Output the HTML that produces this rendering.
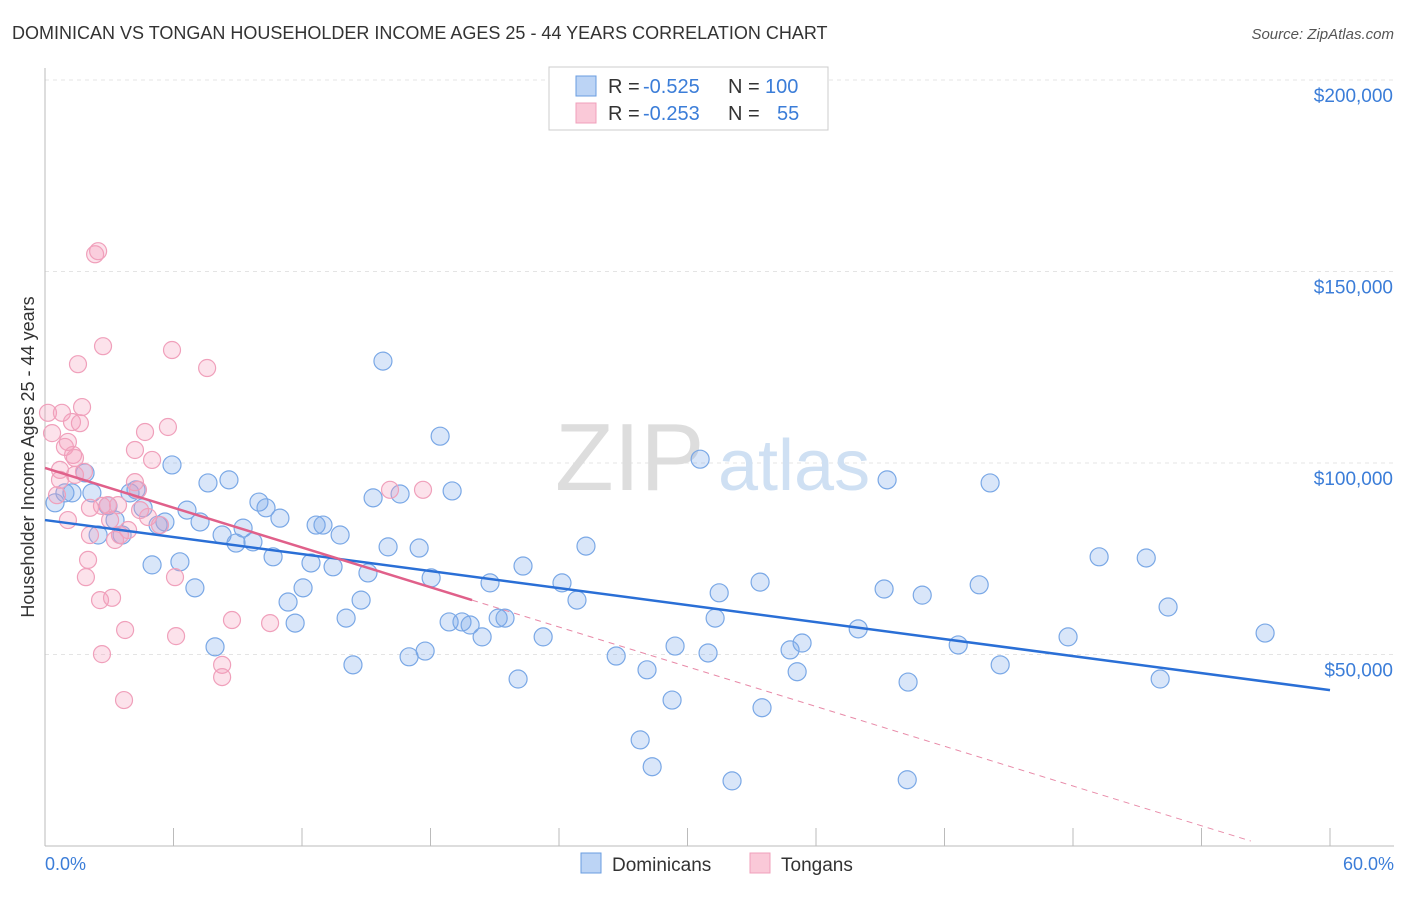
<!DOCTYPE html>
<html><head><meta charset="utf-8"><style>
body{margin:0;background:#fff;font-family:"Liberation Sans",sans-serif}
svg text{font-family:"Liberation Sans",sans-serif}
</style></head><body>
<svg id="chart" width="1406" height="892" xmlns="http://www.w3.org/2000/svg">
<text x="12" y="39" font-size="18" fill="#333">DOMINICAN VS TONGAN HOUSEHOLDER INCOME AGES 25 - 44 YEARS CORRELATION CHART</text>
<text x="1394" y="39" font-size="15" fill="#555" text-anchor="end" font-style="italic">Source: ZipAtlas.com</text>
<g id="grid"></g>
<g><text x="555" y="490" font-size="96" fill="#ddd" font-family="Liberation Serif">ZIP</text><text x="718" y="490" font-size="72" fill="#cfe0f3">atlas</text></g>
<g id="marks"></g>
<text transform="translate(34,457) rotate(-90)" font-size="18" fill="#333" text-anchor="middle">Householder Income Ages 25 - 44 years</text>
<text x="45" y="870" font-size="18" fill="#3b7dd8">0.0%</text>
<text x="1394" y="870" font-size="18" fill="#3b7dd8" text-anchor="end">60.0%</text>
<g>
<rect x="549" y="67" width="279" height="63" fill="#fff" stroke="#ccc"/>
<rect x="576" y="76" width="20" height="20" fill="#bcd4f5" stroke="#6a9de0"/>
<rect x="576" y="103" width="20" height="20" fill="#fac9d8" stroke="#f0a0bb"/>
<text x="608" y="93" font-size="20" fill="#333">R =</text>
<text x="643" y="93" font-size="20" fill="#3b7dd8">-0.525</text>
<text x="728" y="93" font-size="20" fill="#333">N =</text>
<text x="765" y="93" font-size="20" fill="#3b7dd8">100</text>
<text x="608" y="120" font-size="20" fill="#333">R =</text>
<text x="643" y="120" font-size="20" fill="#3b7dd8">-0.253</text>
<text x="728" y="120" font-size="20" fill="#333">N =</text>
<text x="777" y="120" font-size="20" fill="#3b7dd8">55</text>
</g>
<g>
<rect x="581" y="853" width="20" height="20" fill="#bcd4f5" stroke="#6a9de0"/>
<text x="612" y="871" font-size="19" fill="#333">Dominicans</text>
<rect x="750" y="853" width="20" height="20" fill="#fac9d8" stroke="#f0a0bb"/>
<text x="781" y="871" font-size="19" fill="#333">Tongans</text>
</g>
</svg>
<script>
const yTicks=[50000,100000,150000,200000];
const yTickLabels=["$50,000","$100,000","$150,000","$200,000"];
const xTicks=[0,6,12,18,24,30,36,42,48,54,60];
const blueX=[0.47,0.93,1.26,1.87,2.19,2.48,2.94,3.27,3.60,3.97,4.25,4.58,5.00,5.28,5.60,5.93,6.30,6.63,7.00,7.24,7.61,7.94,8.27,8.59,8.92,9.25,9.71,9.99,10.32,10.65,10.97,11.35,11.68,12.05,12.42,12.66,12.98,13.45,13.78,14.06,14.38,14.76,15.08,15.32,15.78,16.02,16.58,17.00,17.47,17.75,18.03,18.45,18.87,19.01,19.47,19.85,20.41,20.78,21.16,21.48,22.09,22.32,23.26,24.14,24.84,25.26,26.67,27.79,28.11,28.35,29.28,29.42,30.59,30.96,31.29,31.48,32.08,33.39,33.48,34.79,35.12,35.35,37.97,39.18,39.32,40.30,40.96,42.64,43.62,44.13,44.60,47.77,49.22,51.42,52.07,52.44,56.97,40.26];
const blueY=[89.6,92.2,92.2,97.4,92.2,81.2,88.8,85.1,81.2,92.2,93.0,88.3,73.4,83.8,84.6,99.5,74.2,87.7,67.4,84.6,94.8,52.0,81.2,95.6,79.1,83.0,79.4,89.8,88.3,75.5,85.6,63.7,58.2,67.4,73.9,83.8,83.8,72.9,81.2,59.5,47.3,64.2,71.3,90.9,126.6,78.1,91.9,49.4,77.8,50.9,70.0,107.0,58.5,92.7,58.5,57.7,54.6,68.7,59.5,59.5,43.6,73.1,54.6,68.7,64.2,78.3,49.6,27.7,46.0,20.7,38.1,52.2,101.0,50.4,59.5,66.1,17.0,68.9,36.1,51.2,45.5,53.0,56.7,67.1,95.6,42.8,65.5,52.5,68.2,94.8,47.3,54.6,75.5,75.2,43.6,62.4,55.6,17.3];
const pinkX=[0.14,0.33,0.56,0.70,0.79,0.93,1.07,1.07,1.26,1.31,1.40,1.54,1.63,1.73,1.82,1.91,2.01,2.10,2.34,2.48,2.57,2.66,2.66,2.71,2.94,3.13,3.27,3.41,3.50,3.69,3.74,3.88,4.20,4.20,4.34,4.67,4.81,5.00,5.74,5.93,6.07,6.12,7.57,8.27,8.27,8.73,10.51,16.11,17.65,0.70,2.10,3.04,1.40,4.44,5.37];
const pinkY=[113.1,107.8,91.6,98.2,113.1,104.2,105.5,85.1,110.7,102.1,101.3,125.8,110.4,114.6,97.7,70.2,74.7,81.2,154.5,155.3,64.2,88.8,50.1,130.5,89.0,64.8,79.9,89.0,81.2,38.1,56.4,82.5,103.4,95.0,93.0,108.1,85.9,100.8,109.4,129.5,70.2,54.8,124.8,47.3,44.1,59.0,58.2,93.0,93.0,95.6,88.3,85.1,96.9,87.7,83.8];
const blueTrend=[85.1,40.7];
const pinkTrend=[98.7,-1.73];
const pinkSolidEnd=19.94, pinkDashEnd=56.3;

const NS="http://www.w3.org/2000/svg";
const X=v=>45+v/60*1285;
const Y=k=>463-(k-100)/50*191.5;
function mk(t,a,p){const e=document.createElementNS(NS,t);for(const k in a)e.setAttribute(k,a[k]);p.appendChild(e);return e;}
const grid=document.getElementById('grid'),marks=document.getElementById('marks');
mk('line',{x1:45,y1:80,x2:1394,y2:80,stroke:'#e4e4e4','stroke-dasharray':'4,4'},grid);
yTicks.forEach((t,i)=>{const y=Y(t/1000);
 const l=mk('line',{x1:45,y1:y,x2:1394,y2:y,stroke:'#e4e4e4','stroke-dasharray':'4,4'},grid);
 
 
 const tx=mk('text',{x:1393,y:y+22,'font-size':19,fill:'#3b7dd8','text-anchor':'end'},grid);tx.textContent=yTickLabels[i];
 
 
});
mk('line',{x1:45,y1:68,x2:45,y2:846,stroke:'#bbb'},grid);
mk('line',{x1:45,y1:846,x2:1394,y2:846,stroke:'#bbb'},grid);
xTicks.forEach(t=>{const l=mk('line',{x1:X(t),y1:828,x2:X(t),y2:846,stroke:'#bbb'},grid);
 
 });
blueX.forEach((x,i)=>{const c=mk('circle',{cx:X(x),cy:Y(blueY[i]),r:9,fill:'rgba(120,165,235,0.28)',stroke:'#7aa8e6','stroke-width':1.2},marks);
 
 });
pinkX.forEach((x,i)=>{const c=mk('circle',{cx:X(x),cy:Y(pinkY[i]),r:8.5,fill:'rgba(245,160,190,0.3)',stroke:'#f0a0bb','stroke-width':1.2},marks);
 
 });
const bl=mk('line',{x1:X(0),y1:Y(blueTrend[0]),x2:X(60),y2:Y(blueTrend[1]),stroke:'#2a6fd6','stroke-width':2.5},marks);


const pf=x=>pinkTrend[0]+pinkTrend[1]*x;
const pl=mk('line',{x1:X(0),y1:Y(pf(0)),x2:X(pinkSolidEnd),y2:Y(pf(pinkSolidEnd)),stroke:'#e0608a','stroke-width':2.5},marks);


const pd=mk('line',{x1:X(pinkSolidEnd),y1:Y(pf(pinkSolidEnd)),x2:X(pinkDashEnd),y2:Y(pf(pinkDashEnd)),stroke:'#e88aa8','stroke-width':1,'stroke-dasharray':'6,5'},marks);


</script>
</body></html>
